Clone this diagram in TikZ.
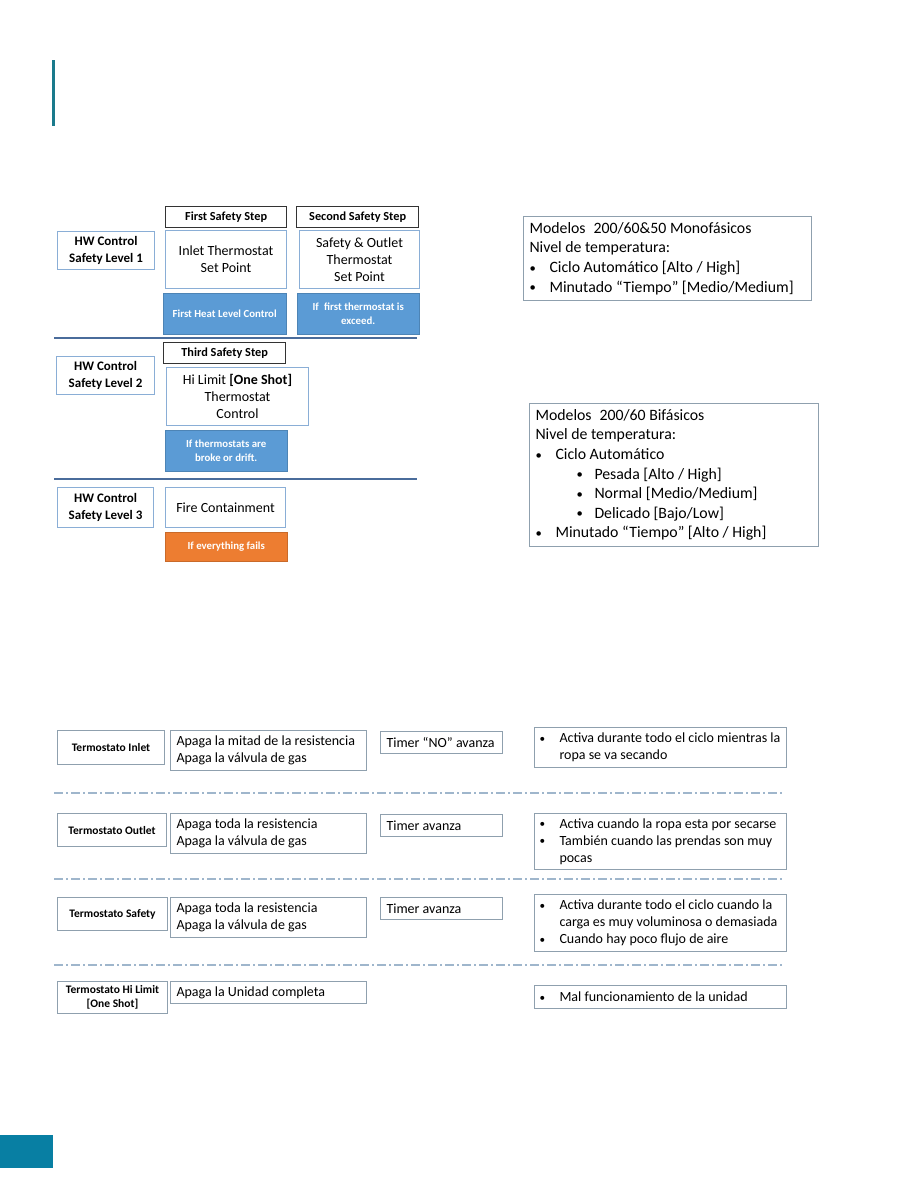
\documentclass[tikz,border=0pt]{standalone}
\usepackage{fontspec}
\setmainfont{Carlito}
\usetikzlibrary{positioning}
\definecolor{tealbar}{HTML}{1A7A8C}
\definecolor{tealblock}{HTML}{087FA3}
\definecolor{levelblue}{HTML}{8AAED6}
\definecolor{noteblue}{HTML}{5B9BD5}
\definecolor{noteorange}{HTML}{ED7D31}
\definecolor{rulerblue}{HTML}{4A6C9B}
\definecolor{dashblue}{HTML}{9FB6CC}
\definecolor{boxgray}{HTML}{8FA0AE}
\newcommand{\bul}{\makebox[20pt][l]{\raisebox{0.5pt}{\scalebox{0.8}{\textbullet}}}}
\newcommand{\subbul}{\hspace*{41pt}\makebox[18pt][l]{\raisebox{0.5pt}{\scalebox{0.8}{\textbullet}}}}
\newcommand{\hang}{\hspace*{20pt}}

\begin{document}
\begin{tikzpicture}[x=1pt,y=-1pt,
  level/.style={draw=levelblue,line width=1.2pt,fill=white,anchor=north west,inner sep=0pt,
    align=center,font=\bfseries\fontsize{13}{16.5}\selectfont},
  stepbox/.style={draw=black!80,line width=1.3pt,anchor=north west,inner sep=0pt,
    font=\bfseries\fontsize{12.3}{14}\selectfont},
  setpoint/.style={draw=levelblue,line width=1pt,anchor=north west,inner sep=0pt,
    align=center,font=\fontsize{14}{17}\selectfont},
  note/.style={fill=noteblue,draw=noteblue!85!black,text=white,anchor=north west,inner sep=0pt,
    align=center,font=\bfseries\fontsize{10.8}{13.5}\selectfont},
  infobox/.style={draw=boxgray,line width=1pt,anchor=north west,inner xsep=6pt,inner ysep=0pt,
    align=flush left,font=\fontsize{15.8}{19.6}\selectfont},
  rowlabel/.style={draw=boxgray,line width=1pt,anchor=north west,inner sep=0pt,
    align=center,font=\bfseries\fontsize{11.5}{14.5}\selectfont},
  rowtext/.style={draw=boxgray,line width=1pt,anchor=north west,inner xsep=6pt,inner ysep=0pt,
    align=flush left,font=\fontsize{14}{17}\selectfont},
  rowsep/.style={dashblue,line width=1.2pt,dash pattern=on 9pt off 3pt on 2pt off 3pt}]
  \useasboundingbox (0,0) rectangle (918,1188);
  % page marks
  \fill[tealbar] (52,60) rectangle (55,126);
  \fill[tealblock] (0,1135) rectangle (53,1168);

  % safety level 1
  \node[stepbox,minimum width=121pt,minimum height=21pt] (step1) at (165,206) {First Safety Step};
  \node[stepbox,minimum width=122pt,minimum height=21pt] (step2) at (296,206) {Second Safety Step};
  \node[level,minimum width=97pt,minimum height=38pt] (level1) at (57,231) {HW Control\\Safety Level 1};
  \node[setpoint,minimum width=121pt,minimum height=58pt] (inlet) at (165,230) {Inlet Thermostat\\Set Point};
  \node[setpoint,minimum width=120pt,minimum height=58pt] (outlet) at (299,230) {Safety \& Outlet\\Thermostat\\Set Point};
  \node[note,minimum width=123pt,minimum height=41pt] (heatnote) at (163,293) {First Heat Level Control};
  \node[note,minimum width=122pt,minimum height=41pt] (firstnote) at (297,293) {If\enspace first thermostat is\\exceed.};
  \draw[rulerblue,line width=1.5pt] (54,338) -- (417,338);

  % safety level 2
  \node[stepbox,minimum width=122pt,minimum height=21pt] (step3) at (163,342) {Third Safety Step};
  \node[level,minimum width=98pt,minimum height=38pt] (level2) at (56,356) {HW Control\\Safety Level 2};
  \node[setpoint,minimum width=142pt,minimum height=58pt] (hilimit) at (166,367) {Hi Limit \textbf{[One Shot]}\\Thermostat\\Control};
  \node[note,minimum width=122pt,minimum height=41pt] (driftnote) at (165,430) {If thermostats are\\broke or drift.};
  \draw[rulerblue,line width=1.5pt] (54,479) -- (417,479);

  % safety level 3
  \node[level,minimum width=96pt,minimum height=40pt] (level3) at (57,487) {HW Control\\Safety Level 3};
  \node[setpoint,minimum width=120pt,minimum height=40pt] (fire) at (165,487) {Fire Containment};
  \node[note,fill=noteorange,draw=noteorange!85!black,minimum width=122pt,minimum height=29pt] (failnote) at (165,532) {If everything fails};

  % model boxes
  \node[infobox,text width=276pt,minimum height=84pt] (mono) at (523,216)
    {Modelos\enspace 200/60\&50 Monofásicos\\Nivel de temperatura:\\
     \bul Ciclo Automático [Alto / High]\\
     \bul Minutado “Tiempo” [Medio/Medium]};
  \node[infobox,text width=277pt,minimum height=143pt] (bifa) at (529,403)
    {Modelos\enspace 200/60 Bifásicos\\Nivel de temperatura:\\
     \bul Ciclo Automático\\
     \subbul Pesada [Alto / High]\\
     \subbul Normal [Medio/Medium]\\
     \subbul Delicado [Bajo/Low]\\
     \bul Minutado “Tiempo” [Alto / High]};

  % thermostat table
  \node[rowlabel,minimum width=107pt,minimum height=34pt] (tinlet) at (57,730) {Termostato Inlet};
  \node[rowtext,text width=184pt,minimum height=40pt] (ainlet) at (170,730) {Apaga la mitad de la resistencia\\Apaga la válvula de gas};
  \node[rowtext,text width=110pt,minimum height=22pt] (timinlet) at (380,731) {Timer “NO” avanza};
  \node[rowtext,inner xsep=5pt,text width=242pt,minimum height=40pt] (iinlet) at (534,727)
    {\bul Activa durante todo el ciclo mientras la\\\hang ropa se va secando};
  \draw[rowsep] (54,793) -- (783,793);

  \node[rowlabel,minimum width=109pt,minimum height=33pt] (toutlet) at (57,813) {Termostato Outlet};
  \node[rowtext,text width=184pt,minimum height=40pt] (aoutlet) at (170,813) {Apaga toda la resistencia\\Apaga la válvula de gas};
  \node[rowtext,text width=110pt,minimum height=22pt] (timoutlet) at (380,814) {Timer avanza};
  \node[rowtext,inner xsep=5pt,text width=242pt,minimum height=56pt] (ioutlet) at (534,813)
    {\bul Activa cuando la ropa esta por secarse\\
     \bul También cuando las prendas son muy\\\hang pocas};
  \draw[rowsep] (54,879) -- (783,879);

  \node[rowlabel,minimum width=110pt,minimum height=33pt] (tsafety) at (57,897) {Termostato Safety};
  \node[rowtext,text width=184pt,minimum height=40pt] (asafety) at (170,897) {Apaga toda la resistencia\\Apaga la válvula de gas};
  \node[rowtext,text width=110pt,minimum height=22pt] (timsafety) at (380,897) {Timer avanza};
  \node[rowtext,inner xsep=5pt,text width=242pt,minimum height=57pt] (isafety) at (534,894)
    {\bul Activa durante todo el ciclo cuando la\\\hang carga es muy voluminosa o demasiada\\
     \bul Cuando hay poco flujo de aire};
  \draw[rowsep] (54,965) -- (783,965);

  \node[rowlabel,minimum width=110pt,minimum height=32pt] (thilimit) at (57,981) {Termostato Hi Limit\\{}[One Shot]};
  \node[rowtext,text width=184pt,minimum height=22pt] (ahilimit) at (170,981) {Apaga la Unidad completa};
  \node[rowtext,inner xsep=5pt,text width=242pt,minimum height=23pt] (ihilimit) at (534,985) {\bul Mal funcionamiento de la unidad};
\end{tikzpicture}
\end{document}
